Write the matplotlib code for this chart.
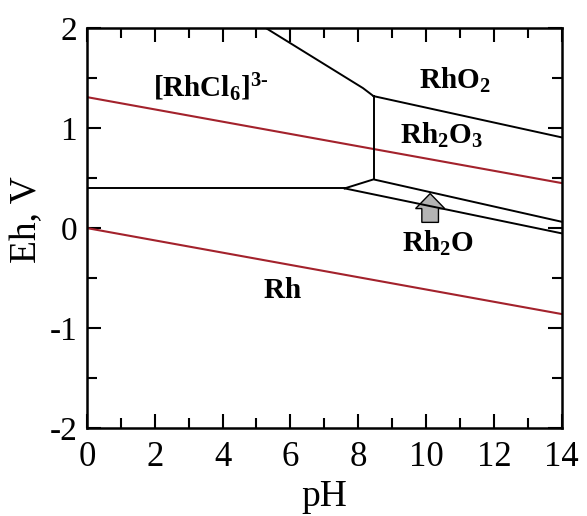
import matplotlib
matplotlib.use("Agg")
import matplotlib.pyplot as plt
from matplotlib.patches import FancyArrow
from matplotlib.ticker import MultipleLocator

plt.rcParams['font.family'] = 'serif'
plt.rcParams['font.serif'] = ['Liberation Serif', 'DejaVu Serif']
plt.rcParams['mathtext.fontset'] = 'custom'
plt.rcParams['mathtext.rm'] = 'Liberation Serif'
plt.rcParams['mathtext.bf'] = 'Liberation Serif:bold'
plt.rcParams['mathtext.it'] = 'Liberation Serif:italic'
plt.rcParams['axes.unicode_minus'] = False

# water stability lines (red)
o2_ph = [0, 14]
o2_eh = [1.31, 0.45]
h2_ph = [0, 14]
h2_eh = [0.0, -0.86]

# phase boundaries (black)
cl_rh_ph = [0, 7.6]
cl_rh_eh = [0.397, 0.397]
cl_ox_ph = [5.28, 8.14, 8.45]
cl_ox_eh = [2.0, 1.40, 1.32]
vert_ph = [8.45, 8.45]
vert_eh = [1.32, 0.487]
rho2_ph = [8.45, 14]
rho2_eh = [1.32, 0.907]
rh2o3_ph = [7.6, 8.45, 14]
rh2o3_eh = [0.397, 0.487, 0.063]
rh2o_ph = [7.6, 14]
rh2o_eh = [0.397, -0.053]

# region labels
labels = [r'$\mathbf{[RhCl_6]^{3\text{-}}}$', r'$\mathbf{RhO_2}$', r'$\mathbf{Rh_2O_3}$',
          r'$\mathbf{Rh_2O}$', r'$\mathbf{Rh}$']
label_ph = [3.65, 10.85, 10.45, 10.35, 5.75]
label_eh = [1.40, 1.48, 0.93, -0.15, -0.63]

fig = plt.figure(figsize=(5.87, 5.16), dpi=100)
ax = fig.add_axes([0.148, 0.1705, 0.809, 0.775])

red = '#a3222c'
ax.plot(o2_ph, o2_eh, color=red, lw=1.5)
ax.plot(h2_ph, h2_eh, color=red, lw=1.5)
for xs, ys in [(cl_rh_ph, cl_rh_eh), (cl_ox_ph, cl_ox_eh), (vert_ph, vert_eh),
               (rho2_ph, rho2_eh), (rh2o3_ph, rh2o3_eh), (rh2o_ph, rh2o_eh)]:
    ax.plot(xs, ys, color='black', lw=1.4)

# arrow pointing at the thin Rh2O field
ax.add_patch(FancyArrow(10.12, 0.057, 0, 0.288, width=0.49, head_width=0.86,
                        head_length=0.15, length_includes_head=True,
                        facecolor='#b4b4b4', edgecolor='black', lw=1.0))

for s, x, y in zip(labels, label_ph, label_eh):
    ax.text(x, y, s, fontsize=21, ha='center', va='center')

ax.set_xlim(0, 14)
ax.set_ylim(-2, 2)
ax.xaxis.set_major_locator(MultipleLocator(2))
ax.xaxis.set_minor_locator(MultipleLocator(1))
ax.yaxis.set_major_locator(MultipleLocator(1))
ax.yaxis.set_minor_locator(MultipleLocator(0.5))
ax.tick_params(which='both', direction='in', top=True, right=True, width=1.5)
ax.tick_params(which='major', length=10)
ax.tick_params(which='minor', length=7)
ax.tick_params(axis='x', labelsize=25, pad=9)
ax.tick_params(axis='y', labelsize=24, pad=7)
for sp in ax.spines.values():
    sp.set_linewidth(1.8)

ax.set_xlabel('pH', fontsize=27, labelpad=4)
ax.set_ylabel('Eh, V', fontsize=27)
ax.yaxis.set_label_coords(-0.09, 0.52)

fig.savefig('out.png', dpi=100)
